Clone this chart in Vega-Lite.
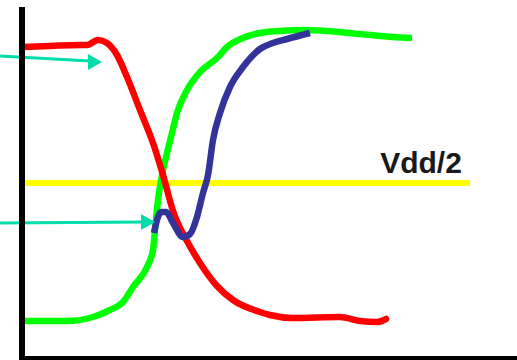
{
  "$schema": "https://vega.github.io/schema/vega-lite/v6.json",
  "width": 517,
  "height": 360,
  "padding": 0,
  "autosize": {"type": "none"},
  "background": "white",
  "config": {"view": {"stroke": null}},
  "datasets": {
    "red": [
      {"x": 23, "y": 47}, {"x": 50, "y": 46}, {"x": 80, "y": 45}, {"x": 87, "y": 45}, {"x": 98, "y": 40},
      {"x": 107, "y": 43}, {"x": 117, "y": 55}, {"x": 127, "y": 77}, {"x": 140, "y": 110}, {"x": 153, "y": 143},
      {"x": 163, "y": 175}, {"x": 173, "y": 211}, {"x": 187, "y": 241}, {"x": 200, "y": 263}, {"x": 217, "y": 286},
      {"x": 233, "y": 300}, {"x": 260, "y": 312}, {"x": 270, "y": 315}, {"x": 293, "y": 318}, {"x": 340, "y": 317},
      {"x": 360, "y": 321}, {"x": 377, "y": 322}, {"x": 386, "y": 319}
    ],
    "green": [
      {"x": 25, "y": 321}, {"x": 67, "y": 321}, {"x": 93, "y": 317}, {"x": 110, "y": 310}, {"x": 123, "y": 302},
      {"x": 133, "y": 287}, {"x": 147, "y": 267}, {"x": 153, "y": 250}, {"x": 155, "y": 230}, {"x": 158, "y": 200},
      {"x": 162, "y": 175}, {"x": 167, "y": 153}, {"x": 172, "y": 133}, {"x": 177, "y": 113}, {"x": 187, "y": 90},
      {"x": 200, "y": 72}, {"x": 217, "y": 58}, {"x": 227, "y": 47}, {"x": 243, "y": 38}, {"x": 260, "y": 33},
      {"x": 280, "y": 31}, {"x": 303, "y": 30}, {"x": 327, "y": 31}, {"x": 360, "y": 34}, {"x": 393, "y": 37},
      {"x": 412, "y": 38}
    ],
    "blue": [
      {"x": 154, "y": 233}, {"x": 157, "y": 220}, {"x": 161, "y": 212}, {"x": 166, "y": 212}, {"x": 173, "y": 223},
      {"x": 183, "y": 237}, {"x": 190, "y": 234}, {"x": 197, "y": 217}, {"x": 203, "y": 193}, {"x": 208, "y": 175},
      {"x": 213, "y": 140}, {"x": 220, "y": 113}, {"x": 230, "y": 87}, {"x": 243, "y": 67}, {"x": 260, "y": 49},
      {"x": 273, "y": 43}, {"x": 287, "y": 39}, {"x": 310, "y": 33}
    ],
    "axes": [
      {"x": 22, "y": 7, "x2": 22, "y2": 359, "w": 6},
      {"x": 19, "y": 358, "x2": 517, "y2": 358, "w": 4}
    ],
    "vdd": [{"x": 22, "y": 183, "x2": 470, "y2": 183}],
    "arrows": [
      {"x": 0, "y": 56, "x2": 90, "y2": 61, "tx": 95, "ty": 62},
      {"x": 0, "y": 223, "x2": 144, "y2": 222, "tx": 148, "ty": 222}
    ],
    "label": [{"x": 421, "y": 173, "text": "Vdd/2"}]
  },
  "layer": [
    {
      "data": {"name": "vdd"},
      "mark": {"type": "rule", "color": "#FFFF00", "strokeWidth": 6},
      "encoding": {
        "x": {"field": "x", "type": "quantitative", "scale": {"domain": [0, 517], "nice": false, "zero": false}, "axis": null},
        "y": {"field": "y", "type": "quantitative", "scale": {"domain": [0, 360], "nice": false, "zero": false, "reverse": true}, "axis": null},
        "x2": {"field": "x2"},
        "y2": {"field": "y2"}
      }
    },
    {
      "data": {"name": "green"},
      "mark": {"type": "line", "color": "#00FF00", "strokeWidth": 6.5, "interpolate": "monotone", "strokeCap": "butt", "strokeJoin": "round"},
      "encoding": {
        "x": {"field": "x", "type": "quantitative"},
        "y": {"field": "y", "type": "quantitative"}
      }
    },
    {
      "data": {"name": "red"},
      "mark": {"type": "line", "color": "#FF0000", "strokeWidth": 6.5, "interpolate": "monotone", "strokeCap": "round", "strokeJoin": "round"},
      "encoding": {
        "x": {"field": "x", "type": "quantitative"},
        "y": {"field": "y", "type": "quantitative"}
      }
    },
    {
      "data": {"name": "blue"},
      "mark": {"type": "line", "color": "#333399", "strokeWidth": 6.5, "interpolate": "monotone", "strokeCap": "butt", "strokeJoin": "round"},
      "encoding": {
        "x": {"field": "x", "type": "quantitative"},
        "y": {"field": "y", "type": "quantitative"}
      }
    },
    {
      "data": {"name": "arrows"},
      "mark": {"type": "rule", "color": "#00DDAA", "strokeWidth": 3},
      "encoding": {
        "x": {"field": "x", "type": "quantitative"},
        "y": {"field": "y", "type": "quantitative"},
        "x2": {"field": "x2"},
        "y2": {"field": "y2"}
      }
    },
    {
      "data": {"name": "arrows"},
      "mark": {"type": "point", "shape": "triangle-right", "filled": true, "color": "#00DDAA", "opacity": 1, "size": 260},
      "encoding": {
        "x": {"field": "tx", "type": "quantitative"},
        "y": {"field": "ty", "type": "quantitative"}
      }
    },
    {
      "data": {"name": "axes"},
      "mark": {"type": "rule", "color": "#000000"},
      "encoding": {
        "x": {"field": "x", "type": "quantitative"},
        "y": {"field": "y", "type": "quantitative"},
        "x2": {"field": "x2"},
        "y2": {"field": "y2"},
        "strokeWidth": {"field": "w", "type": "quantitative", "scale": null, "legend": null}
      }
    },
    {
      "data": {"name": "label"},
      "mark": {"type": "text", "font": "Liberation Sans", "fontWeight": "bold", "fontSize": 30, "color": "#1a1a1a", "align": "center", "baseline": "alphabetic"},
      "encoding": {
        "x": {"field": "x", "type": "quantitative"},
        "y": {"field": "y", "type": "quantitative"},
        "text": {"field": "text", "type": "nominal"}
      }
    }
  ]
}
